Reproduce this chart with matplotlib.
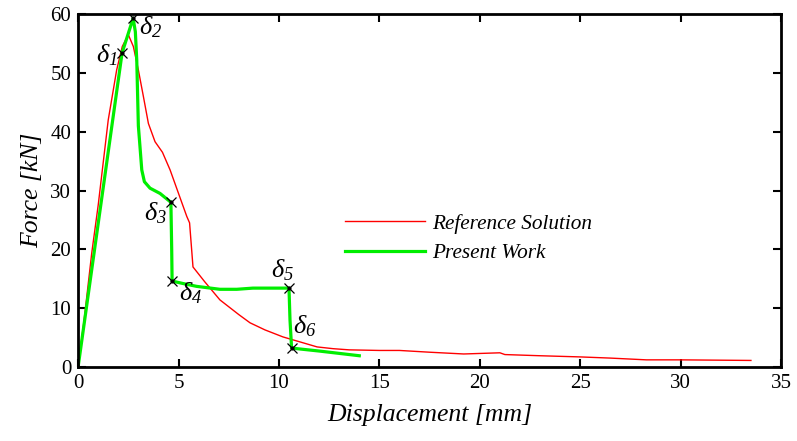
import numpy as np
import matplotlib
matplotlib.use('Agg')
import matplotlib.pyplot as plt

plt.rcParams['font.family'] = ['Liberation Serif', 'DejaVu Serif']
plt.rcParams['mathtext.fontset'] = 'custom'
plt.rcParams['mathtext.it'] = 'Liberation Serif:italic'
plt.rcParams['mathtext.rm'] = 'Liberation Serif:italic'

# reference solution (red)
ref_x = [0, 0.3, 0.68, 1.0, 1.5, 1.92, 2.2, 2.5, 2.75, 3.0, 3.25, 3.5, 3.83, 4.2,
         4.58, 5.0, 5.41, 5.55, 5.72, 6.3, 7.06, 8.0, 8.56, 9.3, 10.2, 11.0, 11.9,
         12.7, 13.5, 15.0, 16.0, 17.5, 19.2, 21.0, 21.25, 23.0, 25.0, 26.5, 28.3,
         30.0, 33.5]
ref_y = [0, 8, 19.4, 27.5, 42, 50.5, 54.5, 56.5, 54.5, 50.5, 46, 41.4, 38.3, 36.5,
         33.5, 29.5, 25.6, 24.5, 17.0, 14.5, 11.4, 8.9, 7.5, 6.3, 5.1, 4.3, 3.4,
         3.1, 2.9, 2.8, 2.8, 2.5, 2.2, 2.4, 2.1, 1.9, 1.7, 1.5, 1.2, 1.2, 1.1]

# present work (green)
pw_x = [0, 2.19, 2.74, 2.85, 2.92, 3.0, 3.08, 3.17, 3.3, 3.58, 4.08, 4.62, 4.66,
        4.68, 5.2, 5.9, 7.06, 7.9, 8.7, 10.5, 10.55, 10.63, 12.0, 14.0]
pw_y = [0, 53.4, 59.3, 57, 52.2, 41, 37.5, 33.5, 31.5, 30.4, 29.5, 28.0, 20,
        14.6, 14.2, 13.7, 13.2, 13.2, 13.4, 13.4, 8, 3.2, 2.7, 1.9]

# delta points
d_x = [2.19, 2.74, 4.62, 4.68, 10.5, 10.63]
d_y = [53.4, 59.3, 28.0, 14.6, 13.4, 3.2]
d_lab = [r'$\delta_{1}$', r'$\delta_{2}$', r'$\delta_{3}$',
         r'$\delta_{4}$', r'$\delta_{5}$', r'$\delta_{6}$']
d_off = [(-15, -2), (17, -9), (-15, -11), (18, -12), (-7, 18), (13, 22)]

fig = plt.figure(figsize=(7.97, 4.41), dpi=100)
ax = fig.add_axes([0.098, 0.168, 0.882, 0.8])

ax.plot(ref_x, ref_y, color='#ff0000', lw=1.0, label='Reference Solution')
ax.plot(pw_x, pw_y, color='#00ee00', lw=2.3, label='Present Work')
ax.plot(d_x, d_y, 'x', color='black', ms=7, mew=0.9)
ax.plot(d_x, d_y, '.', color='black', ms=4)
for x, y, s, o in zip(d_x, d_y, d_lab, d_off):
    ax.annotate(s, (x, y), xytext=o, textcoords='offset pixels',
                ha='center', va='center', fontsize=19)

ax.set_xlim(0, 35)
ax.set_ylim(0, 60)
ax.set_xticks(range(0, 36, 5))
ax.set_yticks(range(0, 61, 10))
ax.tick_params(direction='in', top=True, right=True, length=6, width=1.5,
               labelsize=15, pad=5)
for sp in ax.spines.values():
    sp.set_linewidth(2)
ax.set_xlabel('Displacement [mm]', fontsize=18.5, style='italic', labelpad=8)
ax.set_ylabel('Force [kN]', fontsize=18.5, style='italic', labelpad=5)

leg = ax.legend(loc='upper left', bbox_to_anchor=(0.352, 0.488), frameon=False,
                fontsize=15.3, handlelength=3.76, handletextpad=0.35,
                labelspacing=0.45)
for t in leg.get_texts():
    t.set_style('italic')

fig.savefig('out.png', dpi=100)
